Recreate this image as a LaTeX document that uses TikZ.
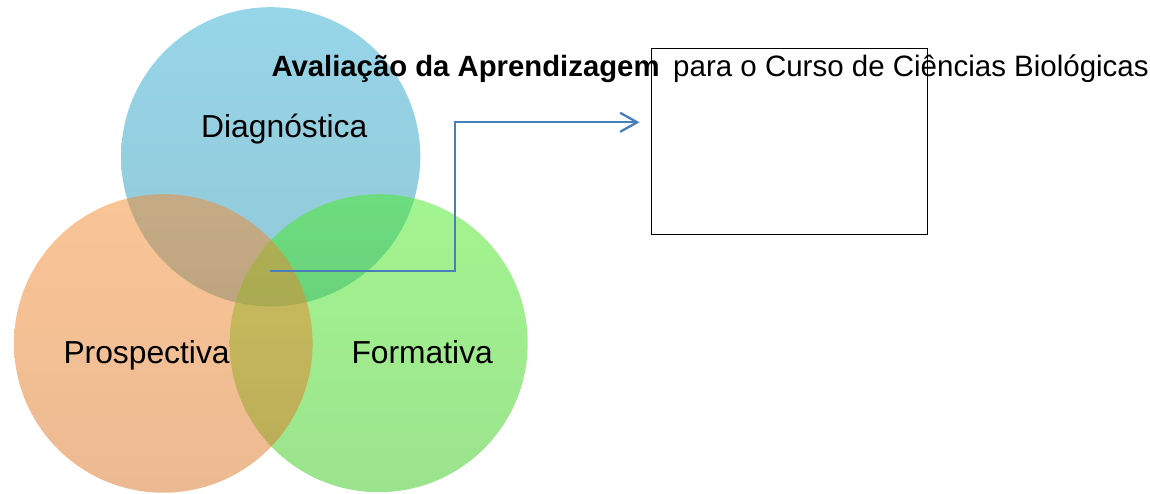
\documentclass[tikz,border=0pt]{standalone}
\usepackage{fontspec}
\setmainfont{Liberation Sans}
\usetikzlibrary{arrows.meta}
\definecolor{bluetop}{RGB}{47,172,211}
\definecolor{bluebot}{RGB}{37,147,177}
\definecolor{greentop}{RGB}{71,235,33}
\definecolor{greenbot}{RGB}{57,199,27}
\definecolor{orangetop}{RGB}{245,139,45}
\definecolor{orangebot}{RGB}{217,117,37}
\definecolor{linkblue}{RGB}{74,126,187}
\tikzset{
  venn/.style={fill opacity=0.5, draw=none},
  lbl/.style={anchor=base west, inner sep=0pt, font=\fontsize{31.8}{36}\selectfont},
  ttl/.style={anchor=base west, inner sep=0pt},
  frame/.style={draw=black, line width=1.1pt, inner sep=0pt, minimum width=275.6pt, minimum height=185.8pt},
  link/.style={draw=linkblue, line width=2.3pt, -{Straight Barb[length=17pt, width=19pt, line width=2.3pt]}}
}
\begin{document}
\begin{tikzpicture}[x=1pt, y=-1pt]
\useasboundingbox (0,0) rectangle (1150,493);
% circles
\shade[venn, top color=bluetop, bottom color=bluebot] (270.7,156.8) circle[radius=149.6];
\shade[venn, top color=greentop, bottom color=greenbot] (378.7,343.2) circle[radius=149];
\shade[venn, top color=orangetop, bottom color=orangebot] (163.3,343.4) circle[radius=149.3];
% labels
\node[lbl] (diag) at (201,137.3) {Diagnóstica};
\node[lbl] (prosp) at (63.3,363.3) {Prospectiva};
\node[lbl] (form) at (351.3,363.3) {Formativa};
% title
\node[ttl, font=\fontsize{29.3}{34}\selectfont\bfseries] (titleA) at (271.3,76) {Avaliação da Aprendizagem};
\node[ttl, font=\fontsize{29.5}{34}\selectfont] (titleB) at (673,76) {para o Curso de Ciências Biológicas};
% box
\node[frame] (box) at (789.5,141.4) {};
% connector
\coordinate (start) at (269.5,270.7);
\coordinate (corner) at (455,270.7);
\coordinate (tip) at (639.5,122.3);
\draw[link] (start) -- (corner) |- (tip);
\end{tikzpicture}
\end{document}
